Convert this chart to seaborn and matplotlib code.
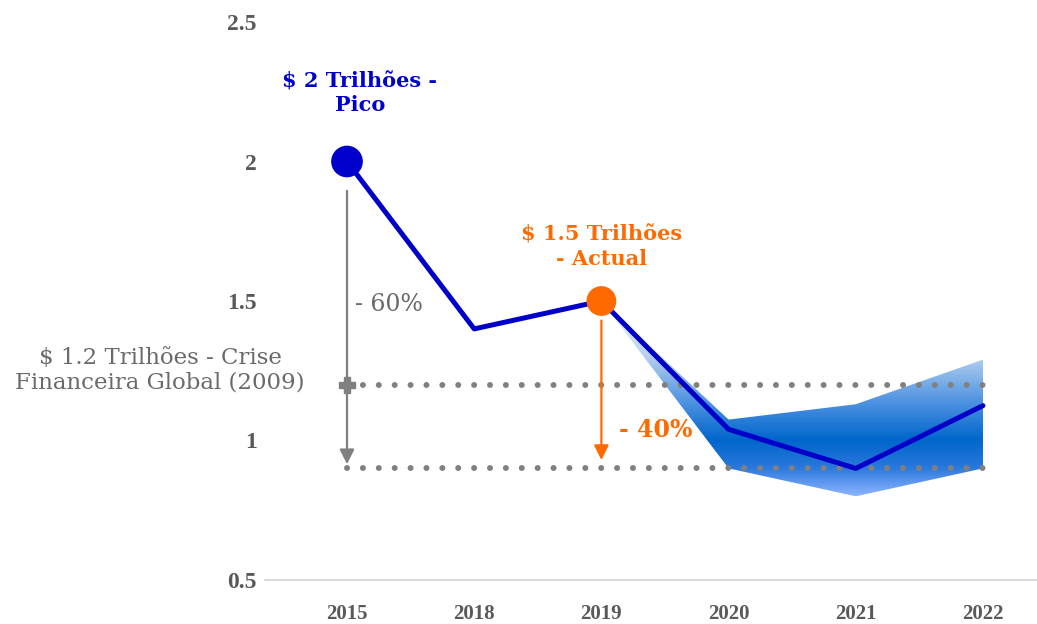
import numpy as np
import matplotlib
matplotlib.use("Agg")
import matplotlib.pyplot as plt
from matplotlib.colors import LinearSegmentedColormap
import seaborn as sns

# =========================
# DATA
# =========================

years = ["2015", "2018", "2019", "2020", "2021", "2022"]
values = [2.0, 1.4, 1.5, 1.04, 0.9, 1.125]

band_years = ["2019", "2020", "2021", "2022"]
band_upper = [1.5, 1.075, 1.13, 1.29]
band_lower = [1.5, 0.9, 0.8, 0.9]

crisis_level = 1.2
floor_level = 0.9

y_ticks = [0.5, 1, 1.5, 2, 2.5]
y_tick_labels = ["0.5", "1", "1.5", "2", "2.5"]

peak_idx = 0
now_idx = 2

# =========================
# STYLE
# =========================

sns.set_theme(style="white")
plt.rcParams["font.family"] = ["Liberation Serif", "DejaVu Serif"]

BLUE = "#0000C8"
ORANGE = "#FF6A00"
GRAY = "#808080"
TEXT_GRAY = "#6A6A6A"
TICK_GRAY = "#595959"
ANN_FONT = ["DejaVu Serif"]

fig = plt.figure(figsize=(10.37, 6.24), dpi=100)
ax = fig.add_axes([265 / 1037, 1 - 580 / 624, 1 - 265 / 1037, (580 - 22) / 624])

x_pos = np.arange(len(years))
band_x = np.array([years.index(y) for y in band_years])

# =========================
# GRADIENT BAND
# =========================

poly = ax.fill_between(band_x, band_lower, band_upper, facecolor="none", edgecolor="none")
band_cmap = LinearSegmentedColormap.from_list(
    "band",
    [(0.0, "#8CB4FF"), (0.143, "#2a78dc"), (0.286, "#0066CC"),
     (0.47, "#4a90e0"), (0.714, "#b5d0f0"), (1.0, "#ffffff")]
)
grad = np.linspace(0.8, 1.5, 256)[:, None]
img = ax.imshow(grad, extent=[band_x[0], band_x[-1], 0.8, 1.5], origin="lower",
                cmap=band_cmap, vmin=0.8, vmax=1.5, aspect="auto", zorder=1)
img.set_clip_path(poly.get_paths()[0], transform=ax.transData)

# =========================
# DOTTED REFERENCE LINES
# =========================

for lvl in [crisis_level, floor_level]:
    ax.plot([x_pos[0], x_pos[-1]], [lvl, lvl], color=GRAY, lw=4.3,
            linestyle=(0, (0.01, 2.65)), dash_capstyle="round", zorder=2)

# =========================
# MAIN LINE
# =========================

sns.lineplot(x=x_pos, y=values, color=BLUE, lw=3.6, ax=ax, zorder=3)

sns.scatterplot(x=[x_pos[peak_idx]], y=[values[peak_idx]], color="#0000CC",
                s=520, edgecolor="none", ax=ax, zorder=4)
sns.scatterplot(x=[x_pos[now_idx]], y=[values[now_idx]], color=ORANGE,
                s=460, edgecolor="none", ax=ax, zorder=4)

# =========================
# ARROWS
# =========================

ax.annotate("", xy=(x_pos[peak_idx], 0.905), xytext=(x_pos[peak_idx], 1.905),
            arrowprops=dict(arrowstyle="-|>", color=GRAY, lw=1.6, mutation_scale=22),
            zorder=2)
ax.plot([x_pos[peak_idx]], [crisis_level], marker="P", ms=11, color=GRAY, zorder=3)

ax.annotate("", xy=(x_pos[now_idx], 0.92), xytext=(x_pos[now_idx], 1.44),
            arrowprops=dict(arrowstyle="-|>", color=ORANGE, lw=1.6, mutation_scale=22),
            zorder=2)

# =========================
# TEXT
# =========================

ax.text(0.1, 2.245, "\\$ 2 Trilhões -\nPico", color="#0000CC", fontsize=15,
        fontweight="bold", ha="center", va="center", linespacing=1.25, family=ANN_FONT)
ax.text(2.0, 1.694, "\\$ 1.5 Trilhões\n- Actual", color=ORANGE, fontsize=15,
        fontweight="bold", ha="center", va="center", linespacing=1.25, family=ANN_FONT)
ax.text(-1.47, 1.253, "\\$ 1.2 Trilhões - Crise\nFinanceira Global (2009)", color=TEXT_GRAY,
        fontsize=16.5, ha="center", va="center", linespacing=1.15, clip_on=False,
        family=ANN_FONT)
ax.text(0.063, 1.486, "- 60%", color=TEXT_GRAY, fontsize=17, ha="left", va="center",
        family=ANN_FONT)
ax.text(2.14, 1.038, "- 40%", color=ORANGE, fontsize=17, fontweight="bold",
        ha="left", va="center", family=ANN_FONT)

# =========================
# AXES
# =========================

ax.set_xlim(-(347 - 265) / 127.2, 5 + 54 / 127.2)
ax.set_ylim(0.5, 2.5)
ax.set_xticks(x_pos)
ax.set_xticklabels(years)
ax.set_yticks(y_ticks)
ax.set_yticklabels(y_tick_labels)
ax.tick_params(axis="both", length=0, labelcolor=TICK_GRAY)
ax.tick_params(axis="x", pad=17, labelsize=15)
ax.tick_params(axis="y", pad=6, labelsize=17)
for lab in ax.get_xticklabels() + ax.get_yticklabels():
    lab.set_fontweight("bold")

sns.despine(ax=ax, left=True, bottom=True)
ax.axhline(0.5, color="#D9D9D9", lw=1.5, zorder=0, clip_on=False)
ax.set_xlabel("")
ax.set_ylabel("")
ax.patch.set_alpha(0)

fig.savefig("out.png", dpi=100)
